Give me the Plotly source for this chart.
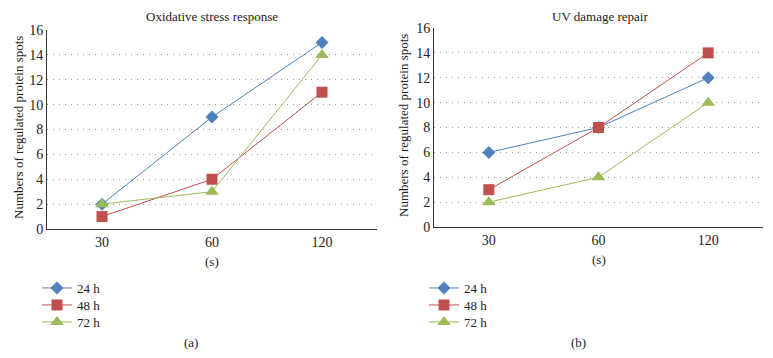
import plotly.graph_objects as go

categories = ["30", "60", "120"]
series_names = ["24 h", "48 h", "72 h"]
oxidative_24h = [2, 9, 15]
oxidative_48h = [1, 4, 11]
oxidative_72h = [2, 3, 14]
uv_24h = [6, 8, 12]
uv_48h = [3, 8, 14]
uv_72h = [2, 4, 10]
y_ticks = [0, 2, 4, 6, 8, 10, 12, 14, 16]

colors = ["#4F81BD", "#C0504D", "#9BBB59"]
symbols = ["diamond", "square", "triangle-up"]
sizes = [10, 11, 12]
FONT = "Liberation Serif"

# page body has an 8px margin: figure is sized to fit inside the 773x358 window
OFF = 8
W, H = 773 - 2 * OFF, 358 - 2 * OFF


def px(x):
    return (x - OFF) / W


def py(y):
    return 1 - (y - OFF) / H


fig = go.Figure()

left = [oxidative_24h, oxidative_48h, oxidative_72h]
right = [uv_24h, uv_48h, uv_72h]
row_y = [288, 305, 322]
legend_layout = {}
for panel, (data, xa, ya, lx) in enumerate([(left, "x", "y", 37), (right, "x2", "y2", 424)]):
    for i, (name, vals) in enumerate(zip(series_names, data)):
        lname = "legend" if (panel == 0 and i == 0) else f"legend{panel * 3 + i + 1}"
        fig.add_trace(go.Scatter(x=categories, y=vals, name=name, mode="lines+markers",
                                 line=dict(color=colors[i], width=1),
                                 marker=dict(symbol=symbols[i], size=sizes[i], color=colors[i]),
                                 xaxis=xa, yaxis=ya, legend=lname))
        legend_layout[lname] = dict(x=px(lx), y=py(row_y[i] - 15), xanchor="left", yanchor="top",
                                    font=dict(family=FONT, size=13, color="#222222"),
                                    itemwidth=30, bgcolor="rgba(0,0,0,0)")

axis_common = dict(showline=True, linecolor="#333333", linewidth=1, ticks="",
                   tickfont=dict(family=FONT, size=14, color="#222222"), zeroline=False,
                   automargin=False)
grid = dict(showgrid=True, gridcolor="#9a9a9a", griddash="1px,5px", gridwidth=1)

fig.update_layout(
    width=W, height=H, margin=dict(l=0, r=0, t=0, b=0, pad=0, autoexpand=False),
    plot_bgcolor="white", paper_bgcolor="white",
    font=dict(family=FONT, color="#222222"),
    xaxis=dict(domain=[px(47), px(377)], anchor="y", type="category",
               range=[-0.5, 2.5], showgrid=False, **axis_common),
    yaxis=dict(domain=[py(229), py(30)], anchor="x", range=[0, 16], tickvals=y_ticks,
               **grid, **axis_common),
    xaxis2=dict(domain=[px(434), px(763)], anchor="y2", type="category",
                range=[-0.5, 2.5], showgrid=False, **axis_common),
    yaxis2=dict(domain=[py(227), py(28)], anchor="x2", range=[0, 16], tickvals=y_ticks,
                **grid, **axis_common),
    showlegend=True,
    **legend_layout,
)

ann = [
    ("Oxidative stress response", 212, 17, 13, 0),
    ("UV damage repair", 600, 17, 13, 0),
    ("(s)", 212, 261, 13, 0),
    ("(s)", 599, 259, 13, 0),
    ("(a)", 191, 342, 13, 0),
    ("(b)", 578, 342, 13, 0),
    ("Numbers of regulated protein spots", 18, 128, 13, -90),
    ("Numbers of regulated protein spots", 403, 126, 13, -90),
]
for text, x, y, s, rot in ann:
    fig.add_annotation(text=text, x=px(x), y=py(y), xref="paper", yref="paper",
                       showarrow=False, xanchor="center", yanchor="middle",
                       textangle=rot, font=dict(family=FONT, size=s, color="#222222"))

fig.write_html("out.html")
